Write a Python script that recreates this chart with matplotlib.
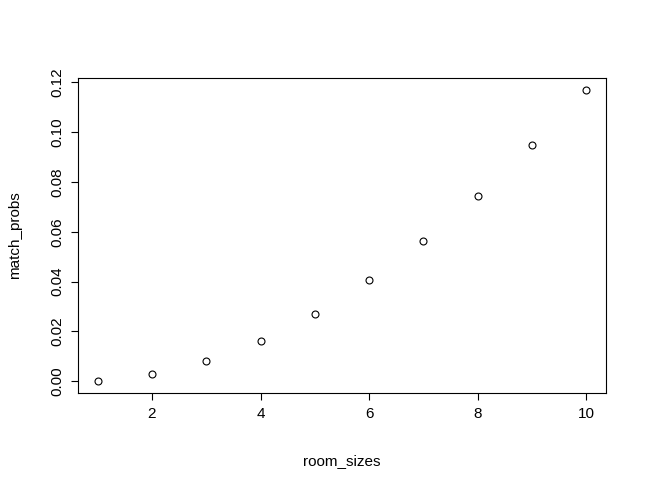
import matplotlib
matplotlib.use("Agg")
import matplotlib.pyplot as plt

## data
room_sizes = [1, 2, 3, 4, 5, 6, 7, 8, 9, 10]
match_probs = [0.0, 0.00274, 0.0082, 0.01636, 0.02714, 0.04046, 0.05624, 0.07434, 0.09462, 0.11695]
x_ticks = [2, 4, 6, 8, 10]
y_ticks = [0.00, 0.02, 0.04, 0.06, 0.08, 0.10, 0.12]

plt.rcParams["font.family"] = "Liberation Sans"
fig = plt.figure(figsize=(6.46, 4.9), dpi=100)
ax = fig.add_axes([78/646, 97/490, 528/646, 315/490])

ax.plot(room_sizes, match_probs, linestyle="none", marker="o", markersize=5,
        markerfacecolor="none", markeredgecolor="black", markeredgewidth=0.8)
ax.margins(0.04)

ax.set_xticks(x_ticks)
ax.set_yticks(y_ticks)
ax.set_yticklabels(["%.2f" % v for v in y_ticks], rotation=90, va="center")
ax.tick_params(direction="out", length=5, width=0.8, labelsize=11, pad=5)
for s in ax.spines.values():
    s.set_linewidth(0.8)

ax.set_xlabel("room_sizes", fontsize=11, labelpad=24)
ax.set_ylabel("match_probs", fontsize=11, labelpad=20)

fig.savefig("out.png", dpi=100)
